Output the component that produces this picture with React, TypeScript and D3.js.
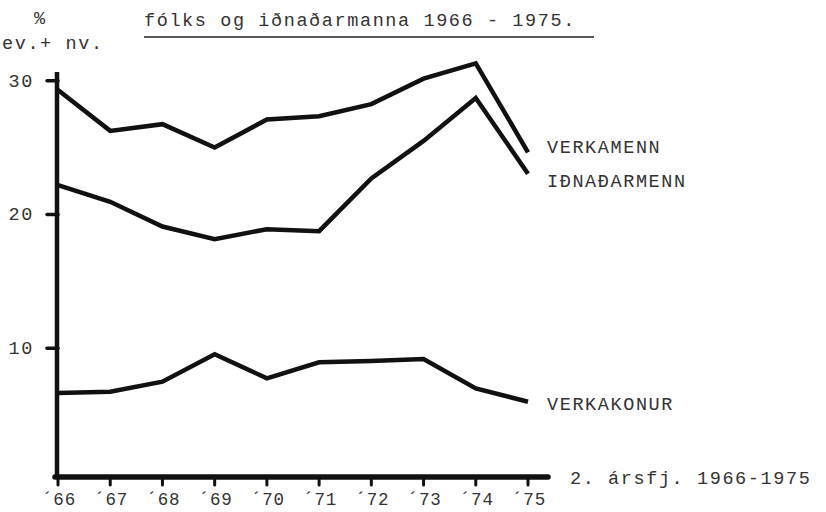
import React, { useRef, useEffect } from "react";
import * as d3 from "d3";

// 2. ársfjórðungur hvers árs
const years = [1966, 1967, 1968, 1969, 1970, 1971, 1972, 1973, 1974, 1975];
const yearLabels = ["´66", "´67", "´68", "´69", "´70", "´71", "´72", "´73", "´74", "´75"];
const verkamenn = [29.3, 26.25, 26.75, 25.0, 27.1, 27.35, 28.25, 30.15, 31.3, 24.65];
const idnadarmenn = [22.2, 20.95, 19.1, 18.15, 18.9, 18.75, 22.7, 25.5, 28.7, 23.05];
const verkakonur = [6.65, 6.75, 7.5, 9.55, 7.75, 8.95, 9.05, 9.2, 7.0, 6.0];
const seriesNames = ["VERKAMENN", "IÐNAÐARMENN", "VERKAKONUR"];
const yTicks = [10, 20, 30];

const FONT = "'Liberation Mono', 'DejaVu Sans Mono', monospace";

const App = () => {
  const svgRef = useRef<SVGSVGElement>(null);

  useEffect(() => {
    const width = 826;
    const height = 512;
    const baseline = 477; // where the x axis is drawn

    const svg = d3.select(svgRef.current);
    svg.selectAll("*").remove();
    svg.attr("width", width).attr("height", height);

    svg.append("rect").attr("width", width).attr("height", height).attr("fill", "#fff");

    const x = d3.scaleLinear().domain([1966, 1975]).range([58, 528]);
    const y = d3.scaleLinear().domain([0, 30]).range([482, 80.7]);

    const txt = (s: string, tx: number, ty: number, anchor = "start") =>
      svg
        .append("text")
        .attr("x", tx)
        .attr("y", ty)
        .attr("text-anchor", anchor)
        .attr("font-family", FONT)
        .attr("font-size", 18.5)
        .attr("letter-spacing", 1.6)
        .attr("fill", "#333")
        .text(s);

    // heading
    txt("%", 34, 24);
    txt("fólks og iðnaðarmanna 1966 - 1975.", 144, 26);
    svg
      .append("line")
      .attr("x1", 144)
      .attr("x2", 594)
      .attr("y1", 37)
      .attr("y2", 37)
      .attr("stroke", "#222")
      .attr("stroke-width", 1.6);
    txt("ev.+ nv.", 2, 49);

    // y axis
    svg
      .append("line")
      .attr("x1", x(1966) - 1)
      .attr("x2", x(1966) - 1)
      .attr("y1", 72)
      .attr("y2", baseline)
      .attr("stroke", "#111")
      .attr("stroke-width", 4.5);

    svg
      .selectAll(".ytick")
      .data(yTicks)
      .enter()
      .append("line")
      .attr("x1", x(1966) - 11)
      .attr("x2", x(1966))
      .attr("y1", (d) => y(d))
      .attr("y2", (d) => y(d))
      .attr("stroke", "#111")
      .attr("stroke-width", 3.5)
      .attr("stroke-linecap", "round");

    yTicks.forEach((t) => txt(String(t), 34, y(t) + 6, "end"));

    // x axis
    svg
      .append("line")
      .attr("x1", x(1966) - 3)
      .attr("x2", 548)
      .attr("y1", baseline)
      .attr("y2", baseline)
      .attr("stroke", "#111")
      .attr("stroke-width", 5.5)
      .attr("stroke-linecap", "round");

    svg
      .selectAll(".xtick")
      .data(years)
      .enter()
      .append("line")
      .attr("x1", (d) => x(d))
      .attr("x2", (d) => x(d))
      .attr("y1", baseline)
      .attr("y2", baseline + 8)
      .attr("stroke", "#111")
      .attr("stroke-width", 3)
      .attr("stroke-linecap", "round");

    years.forEach((yr, i) => {
      txt(yearLabels[i], x(yr) + 1, 505, "middle")
        .attr("font-size", 17.5)
        .attr("letter-spacing", 0.8);
    });

    txt("2. ársfj. 1966-1975", 570, 484);

    // series
    const line = d3
      .line<number>()
      .x((d, i) => x(years[i]))
      .y((d) => y(d));

    [verkamenn, idnadarmenn, verkakonur].forEach((vals) => {
      svg
        .append("path")
        .attr("d", line(vals))
        .attr("fill", "none")
        .attr("stroke", "#111")
        .attr("stroke-width", 4.5)
        .attr("stroke-linejoin", "miter");
    });

    // series labels
    txt(seriesNames[0], 547, 153);
    txt(seriesNames[1], 547, 187);
    txt(seriesNames[2], 547, 410);
  }, []);

  return (
    <div style={{ position: "absolute", left: 0, top: 0 }}>
      <svg ref={svgRef} style={{ display: "block" }}></svg>
    </div>
  );
};

export default App;
